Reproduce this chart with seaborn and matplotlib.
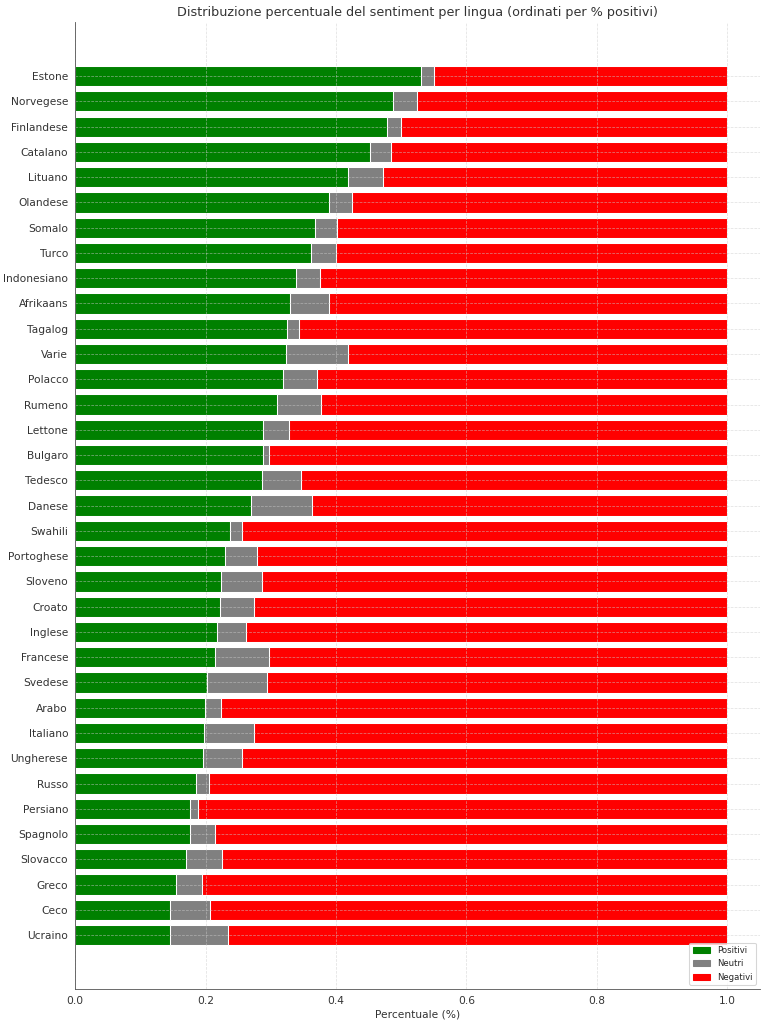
import matplotlib
matplotlib.use("Agg")
import matplotlib.pyplot as plt
import pandas as pd
import seaborn as sns
from matplotlib.patches import Patch

# Languages sorted by share of positive posts (top to bottom)
lingue = ["Estone", "Norvegese", "Finlandese", "Catalano", "Lituano", "Olandese",
          "Somalo", "Turco", "Indonesiano", "Afrikaans", "Tagalog", "Varie",
          "Polacco", "Rumeno", "Lettone", "Bulgaro", "Tedesco", "Danese",
          "Swahili", "Portoghese", "Sloveno", "Croato", "Inglese", "Francese",
          "Svedese", "Arabo", "Italiano", "Ungherese", "Russo", "Persiano",
          "Spagnolo", "Slovacco", "Greco", "Ceco", "Ucraino"]
positivi = [0.530, 0.488, 0.478, 0.452, 0.419, 0.390, 0.368, 0.362, 0.339, 0.330,
            0.325, 0.323, 0.319, 0.310, 0.288, 0.288, 0.286, 0.270, 0.237, 0.230,
            0.223, 0.222, 0.218, 0.214, 0.203, 0.199, 0.198, 0.196, 0.186, 0.176,
            0.176, 0.170, 0.154, 0.145, 0.145]
neutri = [0.021, 0.036, 0.022, 0.032, 0.053, 0.034, 0.033, 0.038, 0.037, 0.059,
          0.018, 0.096, 0.052, 0.067, 0.040, 0.009, 0.061, 0.094, 0.019, 0.049,
          0.063, 0.052, 0.044, 0.083, 0.092, 0.024, 0.076, 0.060, 0.019, 0.013,
          0.039, 0.055, 0.040, 0.062, 0.090]

df = pd.DataFrame({"lingua": lingue, "Positivi": positivi, "Neutri": neutri})
df["Negativi"] = 1 - df["Positivi"] - df["Neutri"]
df["pos_neu"] = df["Positivi"] + df["Neutri"]
df["totale"] = df["pos_neu"] + df["Negativi"]

sns.set_style("white")
plt.rcParams["font.family"] = ["DejaVu Sans"]

fig, ax = plt.subplots(figsize=(10, 1024 / 76.6), dpi=76.6)
fig.subplots_adjust(left=0.098, right=0.992, bottom=0.034, top=0.9785)

# stacked bars: draw cumulative totals back to front
sns.barplot(data=df, y="lingua", x="totale", color="red", orient="h",
            width=0.8, saturation=1, ax=ax)
sns.barplot(data=df, y="lingua", x="pos_neu", color="gray", orient="h",
            width=0.8, saturation=1, ax=ax)
sns.barplot(data=df, y="lingua", x="Positivi", color="green", orient="h",
            width=0.8, saturation=1, ax=ax)

ax.set_xlim(0, 1.05)
ax.set_ylim(len(lingue) - 1 + 2.14, -2.14)
ax.set_axisbelow(False)
ax.grid(True, linestyle="--", linewidth=0.7, color="#cccccc", alpha=0.6)
for side in ["top", "right"]:
    ax.spines[side].set_visible(False)
for side in ["left", "bottom"]:
    ax.spines[side].set_color("#555555")
    ax.spines[side].set_zorder(5)
ax.tick_params(axis="both", colors="#333333", labelsize=10, length=3)
ax.tick_params(axis="x", length=0, pad=6)

ax.set_title("Distribuzione percentuale del sentiment per lingua (ordinati per % positivi)",
             fontsize=12, color="#333333", pad=6)
ax.set_xlabel("Percentuale (%)", fontsize=10, color="#333333")
ax.set_ylabel("")

handles = [Patch(color="green", label="Positivi"),
           Patch(color="gray", label="Neutri"),
           Patch(color="red", label="Negativi")]
ax.legend(handles=handles, loc="lower right", fontsize=8)

fig.savefig("out.png", dpi=76.6)
